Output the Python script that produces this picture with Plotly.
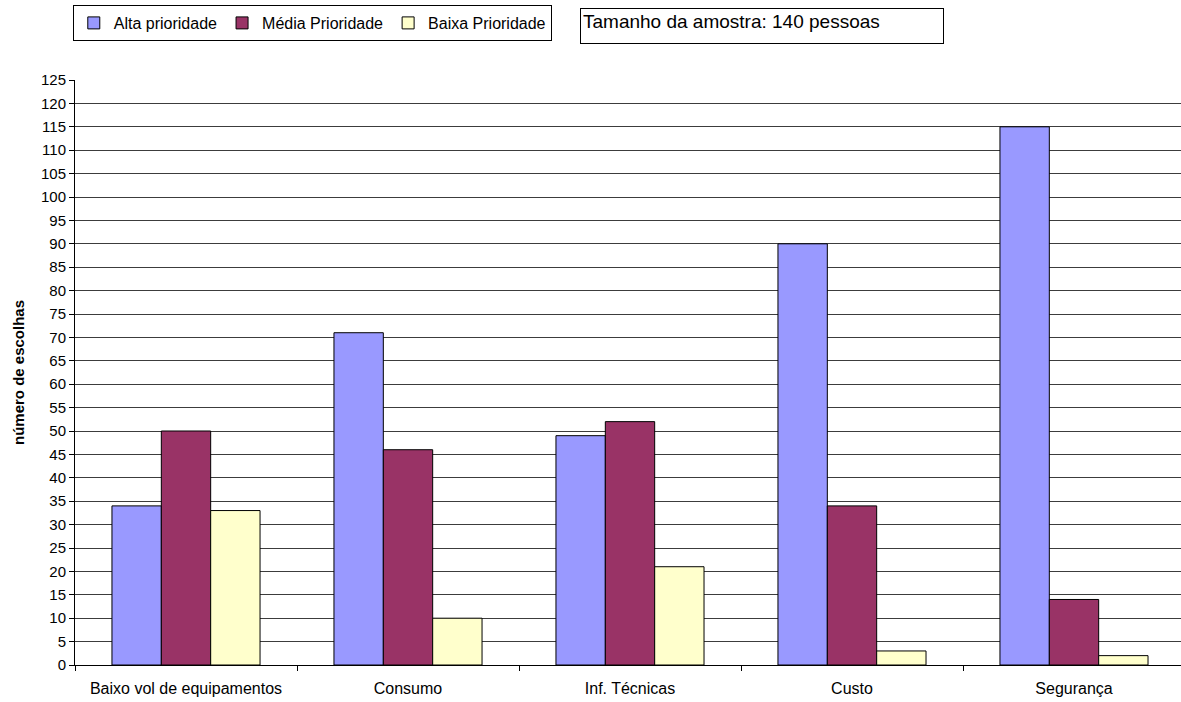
import plotly.graph_objects as go

categories = ["Baixo vol de equipamentos", "Consumo", "Inf. Técnicas", "Custo", "Segurança"]
alta = [34, 71, 49, 90, 115]
media = [50, 46, 52, 34, 14]
baixa = [33, 10, 21, 3, 2]
series_names = ["Alta prioridade", "Média Prioridade", "Baixa Prioridade"]
colors = ["#9999FF", "#993366", "#FFFFCC"]
y_ticks = list(range(0, 130, 5))

FONT = "Liberation Sans, Arial, sans-serif"

fig = go.Figure()
for name, vals, col in zip(series_names, [alta, media, baixa], colors):
    fig.add_trace(go.Bar(
        x=categories, y=vals, name=name,
        marker=dict(color=col, line=dict(color="black", width=1)),
    ))

fig.update_layout(
    width=1181, height=702,
    margin=dict(l=75, r=0, t=80, b=37),
    paper_bgcolor="white", plot_bgcolor="white",
    barmode="group", bargap=0.333, bargroupgap=0,
    font=dict(family=FONT, color="black", size=14),
    showlegend=True,
    legend=dict(
        orientation="h", x=-0.002, y=(665 - 5) / 585, xanchor="left", yanchor="top",
        bordercolor="black", borderwidth=1, font=dict(size=16, family=FONT),
        itemwidth=30, tracegroupgap=0,
    ),
    xaxis=dict(
        range=[-0.5, 4.482], showgrid=False, showline=True, linecolor="black",
        linewidth=1, ticks="outside", tickson="boundaries", ticklen=5,
        tickcolor="black", tickfont=dict(size=16, family=FONT),
        ticklabelstandoff=9,
    ),
    yaxis=dict(
        range=[0, 125], tickvals=y_ticks, showgrid=True, gridcolor="#3c3c3c",
        gridwidth=1, showline=True, linecolor="black", linewidth=1,
        ticks="outside", ticklen=5, tickcolor="black",
        tickfont=dict(size=15, family=FONT),
        title=dict(text="<b>número de escolhas</b>", font=dict(size=15, family=FONT), standoff=12),
        zeroline=False,
    ),
    annotations=[dict(
        xref="paper", yref="paper", x=(580 - 75) / 1106, y=1.1231,
        xanchor="left", yanchor="top", text="Tamanho da amostra: 140 pessoas",
        showarrow=False, align="left", valign="top", width=358, height=30,
        bordercolor="black", borderwidth=1, borderpad=2,
        font=dict(size=19, family=FONT),
    )],
)

fig.write_html("out.html")
